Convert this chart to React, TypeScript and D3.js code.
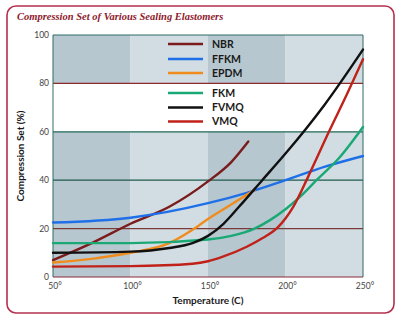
import React from "react";
import * as d3 from "d3";

const xTicks = [50, 100, 150, 200, 250];
const yTicks = [0, 20, 40, 60, 80, 100];
const bands = [50, 100, 150, 200];

const seriesNames = ["NBR", "FFKM", "EPDM", "FKM", "FVMQ", "VMQ"];
const seriesColors = ["#7a1c1c", "#1f6fe8", "#f08c1e", "#1aa874", "#111111", "#c0221a"];

const nbrT = [50, 75, 100, 125, 150, 165, 176];
const nbrV = [7, 14, 22, 29, 39.5, 47.5, 56];
const ffkmT = [50, 100, 150, 175, 200, 225, 250];
const ffkmV = [22.5, 24.5, 30.5, 34.8, 40, 45.5, 50];
const epdmT = [50, 75, 100, 125, 140, 150, 165, 180];
const epdmV = [6, 7.5, 10, 14, 19.5, 24, 30, 36];
const fkmT = [50, 100, 150, 165, 180, 190, 200, 210, 220, 235, 250];
const fkmV = [14, 14, 15.5, 17, 20, 23.5, 28, 33.5, 40, 49.5, 62];
const fvmqT = [50, 100, 125, 140, 150, 160, 170, 185, 200, 225, 250];
const fvmqV = [10, 10.5, 12, 14, 17, 22, 29, 40, 51, 71, 94];
const vmqT = [50, 100, 140, 150, 160, 175, 185, 195, 205, 215, 228, 240, 250];
const vmqV = [4.3, 4.5, 5.5, 6.5, 8.5, 12.5, 16, 20.5, 29, 42, 60, 76, 90];

const seriesT = [nbrT, ffkmT, epdmT, fkmT, fvmqT, vmqT];
const seriesV = [nbrV, ffkmV, epdmV, fkmV, fvmqV, vmqV];

const gridColors: Record<number, string> = {
  20: "#7a3a3a",
  40: "#1f5a4c",
  60: "#1f6a58",
  80: "#8a2a2a",
};

export default function App() {
  const x = d3.scaleLinear().domain([50, 250]).range([53, 363]);
  const y = d3.scaleLinear().domain([0, 100]).range([277, 35]);
  const line = d3
    .line<[number, number]>()
    .x((d) => x(d[0]))
    .y((d) => y(d[1]))
    .curve(d3.curveMonotoneX);

  const legendY = [44, 59, 73, 93, 107.5, 121.5];

  return (
    <svg
      width={400}
      height={330}
      style={{ position: "absolute", left: 0, top: 0, background: "#fff" }}
    >
      <rect x={7} y={6} width={387} height={307} rx={9} fill="#fff" stroke="#b3304f" strokeWidth={1.6} />
      <text
        x={17}
        y={20}
        fontFamily="'Liberation Serif', serif"
        fontStyle="italic"
        fontWeight="bold"
        fontSize={10.5}
        fill="#8e1a2c"
      >
        Compression Set of Various Sealing Elastomers
      </text>

      {bands.map((b, i) => (
        <rect
          key={b}
          x={x(b)}
          y={y(100)}
          width={x(b + 50) - x(b)}
          height={y(0) - y(100)}
          fill={i % 2 === 0 ? "#b6c7cf" : "#d1dde2"}
        />
      ))}
      <rect x={x(50)} y={y(80)} width={x(250) - x(50)} height={y(60) - y(80)} fill="#ffffff" />

      {yTicks
        .filter((t) => t > 0 && t < 100)
        .map((t) => (
          <line key={t} x1={x(50)} x2={x(250)} y1={y(t)} y2={y(t)} stroke={gridColors[t]} strokeWidth={1.2} />
        ))}
      <line x1={x(50)} x2={x(250)} y1={y(0)} y2={y(0)} stroke="#8a2a3a" strokeWidth={1} />
      <line x1={x(50)} x2={x(250)} y1={y(100)} y2={y(100)} stroke="#2e6b66" strokeWidth={1} />
      <line x1={x(50)} x2={x(50)} y1={y(100)} y2={y(0)} stroke="#2e6b66" strokeWidth={1} />
      <line x1={x(250)} x2={x(250)} y1={y(100)} y2={y(0)} stroke="#2e6b66" strokeWidth={1} />

      {seriesNames.map((n, i) => (
        <path
          key={n}
          d={line(seriesT[i].map((t, j) => [t, seriesV[i][j]] as [number, number])) || ""}
          fill="none"
          stroke={seriesColors[i]}
          strokeWidth={2.4}
          strokeLinecap="round"
        />
      ))}

      {seriesNames.map((n, i) => (
        <g key={n}>
          <line x1={168} x2={203} y1={legendY[i]} y2={legendY[i]} stroke={seriesColors[i]} strokeWidth={2.6} />
          <text
            x={212}
            y={legendY[i] + 3.8}
            fontFamily="Lato, 'Open Sans', sans-serif"
            fontWeight="bold"
            fontSize={10.5}
            fill="#1a1a1a"
          >
            {n}
          </text>
        </g>
      ))}

      {yTicks.map((t) => (
        <text
          key={t}
          x={49}
          y={y(t) + 3}
          textAnchor="end"
          fontFamily="Lato, 'Open Sans', sans-serif"
          fontSize={8.5}
          fill="#444"
        >
          {t}
        </text>
      ))}
      {xTicks.map((t) => (
        <text
          key={t}
          x={x(t) + 2}
          y={289}
          textAnchor="middle"
          fontFamily="Lato, 'Open Sans', sans-serif"
          fontSize={8.5}
          fill="#444"
        >
          {t}°
        </text>
      ))}
      <text
        x={208}
        y={304}
        textAnchor="middle"
        fontFamily="Lato, 'Open Sans', sans-serif"
        fontWeight="bold"
        fontSize={10}
        fill="#1a1a1a"
      >
        Temperature (C)
      </text>
      <text
        transform={`translate(24,156) rotate(-90)`}
        textAnchor="middle"
        fontFamily="Lato, 'Open Sans', sans-serif"
        fontWeight="bold"
        fontSize={10}
        fill="#1a1a1a"
      >
        Compression Set (%)
      </text>
    </svg>
  );
}
